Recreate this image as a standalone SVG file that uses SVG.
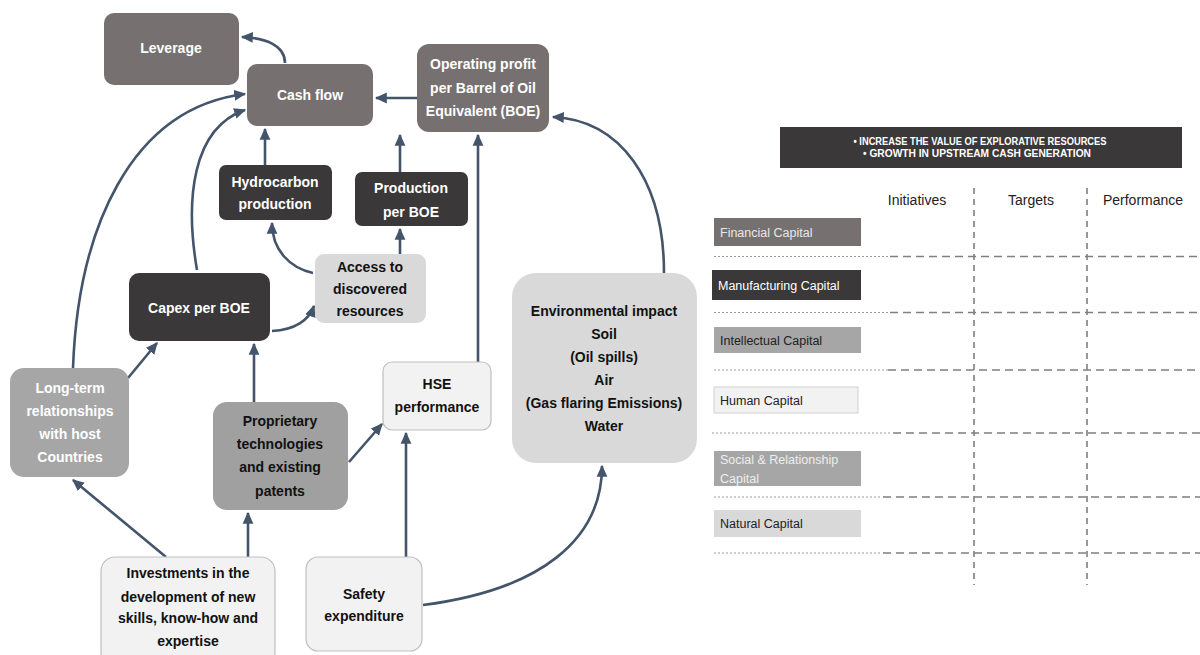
<svg xmlns="http://www.w3.org/2000/svg" width="1200" height="655" viewBox="0 0 1200 655">
<style>
.t{font-family:"Liberation Sans",Arial,sans-serif;font-weight:bold;font-size:14px;text-anchor:middle}
.w{fill:#ffffff}
.k{fill:#111111}
.c{fill:none;stroke:#44546a;stroke-width:2.6;marker-end:url(#ah)}
.g{stroke:#7f7f7f;stroke-width:1.6;fill:none}
.lab{font-family:"Liberation Sans",Arial,sans-serif;font-size:12.5px}
.col{font-family:"Liberation Sans",Arial,sans-serif;font-size:14px;fill:#222;text-anchor:middle}
.hd{font-family:"Liberation Sans",Arial,sans-serif;font-weight:bold;font-size:11px;text-anchor:middle;fill:#ffffff}
</style>
<defs>
<marker id="ah" markerUnits="userSpaceOnUse" markerWidth="12" markerHeight="12" viewBox="0 0 10 10" refX="9" refY="5" orient="auto">
<path d="M0,0.5 L10,5 L0,9.5 z" fill="#44546a"/>
</marker>
</defs>
<rect width="1200" height="655" fill="#ffffff"/>

<g id="connectors">
<path class="c" d="M285,63 C285,45 265,38 242,37"/>
<path class="c" d="M417,98 L376,98"/>
<path class="c" d="M265,165 L265,129"/>
<path class="c" d="M400,172 L400,135"/>
<path class="c" d="M400,254 L400,229"/>
<path class="c" d="M313,273 C290,268 272,250 272,223"/>
<path class="c" d="M272,331 C295,330 309,320 314,306"/>
<path class="c" d="M197,270 C185,200 192,128 245,110"/>
<path class="c" d="M73,368 C78,230 130,108 245,94"/>
<path class="c" d="M128,378 L157,343"/>
<path class="c" d="M254,402 L254,344"/>
<path class="c" d="M166,557 L73,480"/>
<path class="c" d="M248,557 L248,513"/>
<path class="c" d="M349,462 L382,424"/>
<path class="c" d="M406,557 L406,433"/>
<path class="c" d="M478,362 L478,135"/>
<path class="c" d="M664,273 C664,180 620,120 553,117"/>
<path class="c" d="M423,605 C540,590 602,540 602,466"/>
</g>

<g id="leverage">
<rect x="104" y="13" width="135" height="72" rx="10" fill="#767170"/>
<text class="t w" x="171" y="53">Leverage</text>
</g>
<g id="cashflow">
<rect x="247" y="64" width="126" height="62" rx="10" fill="#767170"/>
<text class="t w" x="310" y="100">Cash flow</text>
</g>
<g id="opprofit">
<rect x="417" y="44" width="132" height="88" rx="12" fill="#767170"/>
<text class="t w" x="483" y="69">Operating profit</text>
<text class="t w" x="483" y="93">per Barrel of Oil</text>
<text class="t w" x="483" y="116">Equivalent (BOE)</text>
</g>
<g id="hydro">
<rect x="219" y="165" width="113" height="55" rx="7" fill="#3a3838"/>
<text class="t w" x="275" y="187">Hydrocarbon</text>
<text class="t w" x="275" y="209">production</text>
</g>
<g id="prodboe">
<rect x="355" y="172" width="113" height="54" rx="7" fill="#3a3838"/>
<text class="t w" x="411" y="193">Production</text>
<text class="t w" x="411" y="217">per BOE</text>
</g>
<g id="access">
<rect x="315" y="254" width="111" height="69" rx="9" fill="#d9d9d9"/>
<text class="t k" x="370" y="272">Access to</text>
<text class="t k" x="370" y="294">discovered</text>
<text class="t k" x="370" y="316">resources</text>
</g>
<g id="capex">
<rect x="129" y="273" width="141" height="68" rx="10" fill="#3a3838"/>
<text class="t w" x="199" y="313">Capex per BOE</text>
</g>
<g id="longterm">
<rect x="10" y="368" width="119" height="109" rx="14" fill="#a6a6a6"/>
<text class="t w" x="70" y="393">Long-term</text>
<text class="t w" x="70" y="416">relationships</text>
<text class="t w" x="70" y="439">with host</text>
<text class="t w" x="70" y="462">Countries</text>
</g>
<g id="proprietary">
<rect x="213" y="402" width="135" height="108" rx="14" fill="#a0a0a0"/>
<text class="t k" x="280" y="426">Proprietary</text>
<text class="t k" x="280" y="449">technologies</text>
<text class="t k" x="280" y="472">and existing</text>
<text class="t k" x="280" y="496">patents</text>
</g>
<g id="hse">
<rect x="383" y="362" width="108" height="68" rx="9" fill="#f2f2f2" stroke="#bfbfbf" stroke-width="1.2"/>
<text class="t k" x="437" y="389">HSE</text>
<text class="t k" x="437" y="412">performance</text>
</g>
<g id="env">
<rect x="512" y="273" width="185" height="190" rx="24" fill="#d9d9d9"/>
<text class="t k" x="604" y="316">Environmental impact</text>
<text class="t k" x="604" y="339">Soil</text>
<text class="t k" x="604" y="362">(Oil  spills)</text>
<text class="t k" x="604" y="385">Air</text>
<text class="t k" x="604" y="408">(Gas flaring Emissions)</text>
<text class="t k" x="604" y="431">Water</text>
</g>
<g id="investments">
<rect x="101" y="557" width="174" height="110" rx="14" fill="#f2f2f2" stroke="#bfbfbf" stroke-width="1.2"/>
<text class="t k" x="188" y="578">Investments in the</text>
<text class="t k" x="188" y="602">development of new</text>
<text class="t k" x="188" y="623">skills, know-how and</text>
<text class="t k" x="188" y="646">expertise</text>
</g>
<g id="safety">
<rect x="306" y="557" width="116" height="94" rx="12" fill="#f2f2f2" stroke="#bfbfbf" stroke-width="1.2"/>
<text class="t k" x="364" y="599">Safety</text>
<text class="t k" x="364" y="621">expenditure</text>
</g>

<g id="panel">
<rect x="780" y="127" width="402" height="41" fill="#3a3838"/>
<text class="hd" x="980" y="145" textLength="253" lengthAdjust="spacingAndGlyphs">• INCREASE THE VALUE OF EXPLORATIVE RESOURCES</text>
<text class="hd" x="977" y="157" textLength="228" lengthAdjust="spacingAndGlyphs">• GROWTH IN UPSTREAM CASH GENERATION</text>

<text class="col" x="917" y="205">Initiatives</text>
<text class="col" x="1031" y="205">Targets</text>
<text class="col" x="1143" y="205">Performance</text>

<path class="g" d="M974,188 V585" stroke-dasharray="6,5"/>
<path class="g" d="M1087,188 V585" stroke-dasharray="6,5"/>

<g stroke="#9a9a9a" stroke-width="1" stroke-dasharray="2,2">
<path d="M714,256.5 H888"/>
<path d="M714,312.5 H888"/>
<path d="M714,370 H888"/>
<path d="M712,433 H892"/>
<path d="M714,497 H882"/>
<path d="M714,553 H882"/>
</g>
<g stroke="#7f7f7f" stroke-width="1.6" stroke-dasharray="8,5">
<path d="M890,256.5 H1200"/>
<path d="M890,312.5 H1200"/>
<path d="M888,370 H1200"/>
<path d="M893,433 H1200"/>
<path d="M883,497 H1200"/>
<path d="M883,553 H1200"/>
</g>

<rect x="714" y="218" width="147" height="28" fill="#767170"/>
<text class="lab" x="720" y="237" fill="#e8e8e8">Financial Capital</text>
<rect x="712" y="270" width="149" height="30" fill="#3a3838"/>
<text class="lab" x="718" y="290" fill="#ffffff">Manufacturing Capital</text>
<rect x="714" y="327" width="147" height="26" fill="#a6a6a6"/>
<text class="lab" x="720" y="345" fill="#222222">Intellectual Capital</text>
<rect x="714" y="387" width="144" height="26" fill="#f2f2f2" stroke="#d0d0d0" stroke-width="1"/>
<text class="lab" x="720" y="405" fill="#222222">Human Capital</text>
<rect x="714" y="451" width="147" height="35" fill="#a6a6a6"/>
<text class="lab" x="720" y="464" fill="#eeeeee">Social &amp; Relationship</text>
<text class="lab" x="720" y="483" fill="#eeeeee">Capital</text>
<rect x="714" y="510" width="147" height="27" fill="#d9d9d9"/>
<text class="lab" x="720" y="528" fill="#222222">Natural Capital</text>
</g>
</svg>
